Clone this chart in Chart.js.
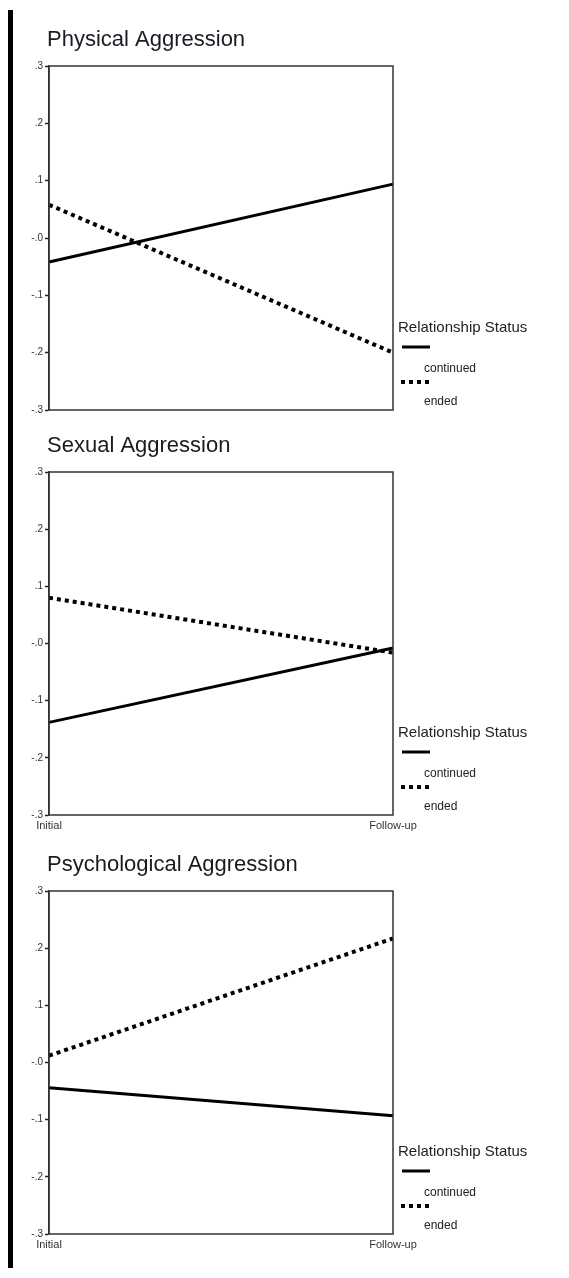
<!DOCTYPE html>
<html>
<head>
<meta charset="utf-8">
<title>Aggression by Relationship Status</title>
<script src="https://cdn.jsdelivr.net/npm/chart.js@4"></script>
<style>
  body { margin: 0; background: #fff; width: 569px; height: 1278px; position: relative; overflow: hidden; }
  #leftBar { position: absolute; left: 8px; top: 10px; width: 5px; height: 1258px; background: #000; }
  .panel { position: absolute; left: 0; width: 569px; }
  canvas { display: block; }
</style>
</head>
<body>
<div id="leftBar"></div>
<div class="panel" style="top:0"><canvas id="physicalChart" width="569" height="420"></canvas></div>
<div class="panel" style="top:420px"><canvas id="sexualChart" width="569" height="420"></canvas></div>
<div class="panel" style="top:840px"><canvas id="psychChart" width="569" height="438"></canvas></div>

<script>
// Data
const timePoints = ['Initial', 'Follow-up'];
const yTickLabels = ['.3', '.2', '.1', '-.0', '-.1', '-.2', '-.3'];
const seriesNames = ['continued', 'ended'];

const physicalContinued = [-0.042, 0.094];
const physicalEnded = [0.058, -0.2];
const sexualContinued = [-0.138, -0.008];
const sexualEnded = [0.08, -0.016];
const psychContinued = [-0.044, -0.093];
const psychEnded = [0.012, 0.217];

const FONT = '"Liberation Sans", Arial, sans-serif';

// frame around plot area
const framePlugin = {
  id: 'frame',
  afterDatasetsDraw(chart) {
    const a = chart.chartArea;
    const ctx = chart.ctx;
    ctx.save();
    ctx.strokeStyle = '#333';
    ctx.lineWidth = 1.5;
    ctx.strokeRect(a.left, a.top, a.right - a.left, a.bottom - a.top);
    ctx.restore();
  }
};

// panel title, top left
const panelTitlePlugin = {
  id: 'panelTitle',
  afterDraw(chart, args, opts) {
    const ctx = chart.ctx;
    ctx.save();
    ctx.font = '22px ' + FONT;
    ctx.fillStyle = '#1a1a22';
    ctx.textBaseline = 'alphabetic';
    ctx.fillText(opts.text, 47, chart.chartArea.top - 20);
    ctx.restore();
  }
};

// legend to the right of plot: header, then sample line above each label
const sideLegendPlugin = {
  id: 'sideLegend',
  afterDraw(chart) {
    const ctx = chart.ctx;
    const r = chart.chartArea.right;
    const b = chart.chartArea.bottom;
    const ds = chart.data.datasets;
    ctx.save();
    ctx.fillStyle = '#222';
    ctx.font = '15px ' + FONT;
    ctx.fillText('Relationship Status', r + 5, b - 78);

    const rows = [
      { lineY: b - 63, textY: b - 38, x1: r + 9, x2: r + 37 },
      { lineY: b - 28, textY: b - 5, x1: r + 8, x2: r + 40 }
    ];
    ds.forEach((d, i) => {
      const row = rows[i];
      ctx.beginPath();
      ctx.strokeStyle = d.borderColor;
      ctx.lineWidth = d.borderWidth;
      ctx.setLineDash(d.borderDash || []);
      ctx.moveTo(row.x1, row.lineY);
      ctx.lineTo(row.x2, row.lineY);
      ctx.stroke();
      ctx.setLineDash([]);
      ctx.font = '12px ' + FONT;
      ctx.fillStyle = '#222';
      ctx.fillText(d.label, r + 31, row.textY);
    });
    ctx.restore();
  }
};

function makePanel(canvasId, title, continuedData, endedData, showX, padTop, padBottom) {
  const ctx = document.getElementById(canvasId).getContext('2d');
  return new Chart(ctx, {
    type: 'line',
    data: {
      labels: timePoints,
      datasets: [
        {
          label: seriesNames[0],
          data: continuedData,
          borderColor: '#000',
          borderWidth: 3,
          pointRadius: 0,
          tension: 0
        },
        {
          label: seriesNames[1],
          data: endedData,
          borderColor: '#000',
          borderWidth: 4,
          borderDash: [4, 4],
          pointRadius: 0,
          tension: 0
        }
      ]
    },
    options: {
      responsive: false,
      animation: false,
      layout: { padding: { top: padTop, right: 176, bottom: padBottom, left: 0 } },
      plugins: {
        legend: { display: false },
        tooltip: { enabled: false },
        panelTitle: { text: title }
      },
      scales: {
        x: {
          display: showX,
          offset: false,
          grid: { display: false, drawTicks: false },
          border: { display: false },
          ticks: {
            maxRotation: 0,
            autoSkip: false,
            padding: 4,
            color: '#333',
            font: { family: FONT, size: 11 }
          },
          afterFit(scale) { scale.height = showX ? 16 : 0; }
        },
        y: {
          min: -0.3,
          max: 0.3,
          grid: {
            drawOnChartArea: false,
            drawTicks: true,
            tickLength: 4,
            tickColor: '#222',
            tickWidth: 1.5
          },
          border: { display: true, color: '#333', width: 1.5 },
          ticks: {
            stepSize: 0.1,
            padding: 2,
            color: '#333',
            font: { family: FONT, size: 10 },
            callback: function (value) {
              return yTickLabels[Math.round((0.3 - value) / 0.1)];
            }
          },
          afterFit(scale) { scale.width = 49; }
        }
      }
    },
    plugins: [framePlugin, panelTitlePlugin, sideLegendPlugin]
  });
}

makePanel('physicalChart', 'Physical Aggression', physicalContinued, physicalEnded, false, 66, 10);
makePanel('sexualChart', 'Sexual Aggression', sexualContinued, sexualEnded, true, 52, 9);
makePanel('psychChart', 'Psychological Aggression', psychContinued, psychEnded, true, 51, 28);
</script>
</body>
</html>
